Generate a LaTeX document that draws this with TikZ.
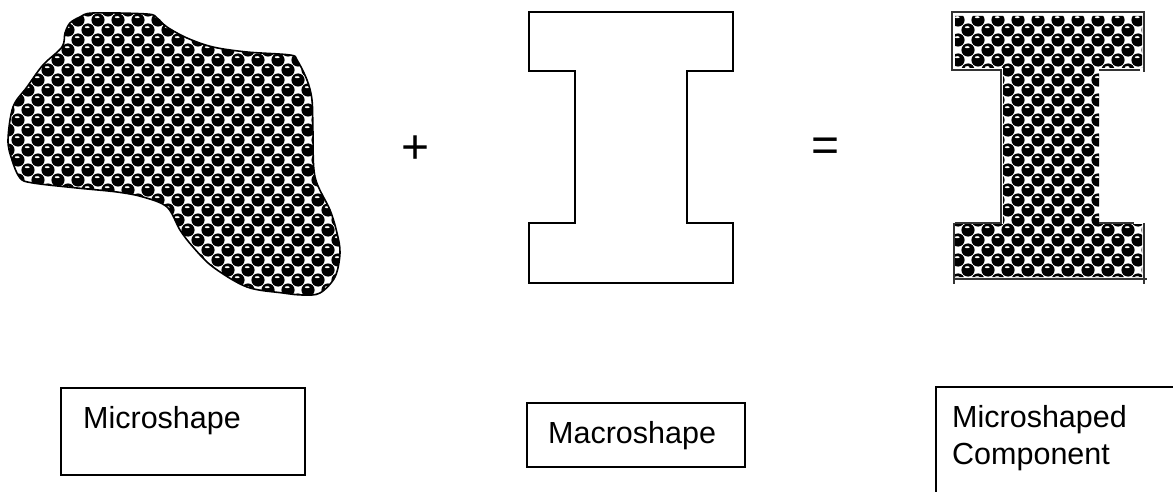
\documentclass[tikz,border=0pt]{standalone}
\usepackage{fontspec}
\setmainfont{Liberation Sans}
\usetikzlibrary{positioning}

% checkerboard of shaded spheres, one every other 10pt cell
\newcommand{\sphereGrid}[4]{%
  \foreach \row in {0,...,#4}{
    \pgfmathtruncatemacro{\shift}{mod(\row,2)*10}
    \foreach \col in {0,...,#3}{
      \fill[black] ({#1+20*\col+\shift},{#2+10*\row}) circle (6.6);
      \fill[white] ({#1+20*\col+\shift-0.8},{#2+10*\row-2.8}) ellipse (2.4 and 1.0);
    }
  }%
}

\begin{document}
\begin{tikzpicture}[
    x=1pt, y=-1pt,
    outlineLine/.style={line width=1.3pt, line join=miter},
    blobLine/.style={line width=1.6pt},
    edgeLine/.style={line width=1.1pt, draw=black!80},
    boxLine/.style={line width=1.2pt},
    labelText/.style={font=\fontsize{30.5}{34}\selectfont, inner sep=0pt, anchor=base west},
    signText/.style={font=\fontsize{48}{50}\selectfont, inner sep=0pt}
]
    \useasboundingbox (0,0) rectangle (1173,492);

    % ---------------- microshape (blob) ----------------
    \def\blobPath{plot[smooth cycle, tension=0.55] coordinates {
        (65,33) (70,23) (80,17) (93,13) (147,14) (157,18) (167,27) (187,38)
        (213,47) (247,52) (290,55) (297,60) (307,80) (312,100) (313,133)
        (315,177) (330,210) (337,233) (340,253) (335,277) (320,293) (303,295)
        (283,293) (247,287) (213,267) (193,247) (180,230) (167,207) (143,197)
        (117,192) (77,188) (33,183) (20,178) (12,160) (8,140) (13,107)
        (27,87) (43,65) (62,47)}}
    \begin{scope}
        \clip \blobPath;
        \sphereGrid{8}{10}{17}{29}
    \end{scope}
    \draw[blobLine] \blobPath;

    \node[signText] (plusSign) at (416,150) {+};

    % ---------------- macroshape (I section) ----------------
    \draw[outlineLine] (529,12) -- (733,12) -- (733,71) -- (687,71) -- (687,223)
        -- (733,223) -- (733,283) -- (529,283) -- (529,223) -- (575,223)
        -- (575,71) -- (529,71) -- cycle;

    \node[signText] (eqSign) at (826,150) {=};

    % ---------------- microshaped component ----------------
    \begin{scope}
        \clip (955,16) -- (1142,16) -- (1142,68) -- (1099,68) -- (1099,224)
            -- (1142,224) -- (1142,277) -- (955,277) -- (955,224) -- (1003,224)
            -- (1003,68) -- (955,68) -- cycle;
        \sphereGrid{958}{20}{10}{27}
    \end{scope}
    \draw[edgeLine] (952,71) -- (952,12) -- (1144,12) -- (1144,72);
    \draw[edgeLine] (952,70) -- (1001,70) -- (1001,223) -- (955,223);
    \draw[edgeLine] (1099,70) -- (1140,70);
    \draw[edgeLine] (1099,223) -- (1134,223);
    \draw[edgeLine] (954,223) -- (954,284);
    \draw[edgeLine] (1144,223) -- (1144,284);
    \draw[edgeLine] (953,279) -- (1147,279);

    % ---------------- captions ----------------
    \draw[boxLine] (61,388) rectangle (305,475);
    \node[labelText] (microLbl) at (83,428) {Microshape};

    \draw[boxLine] (527,403) rectangle (745,467);
    \node[labelText] (macroLbl) at (548,443) {Macroshape};

    \draw[boxLine] (1173,387) -- (936,387) -- (936,492);
    \node[labelText] (compLbl) at (952,427) {Microshaped};
    \node[labelText, below=37pt of compLbl.base west, anchor=base west] (compLbl2) {Component};

\end{tikzpicture}
\end{document}
